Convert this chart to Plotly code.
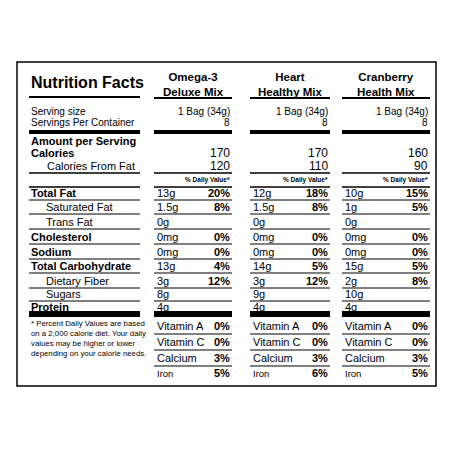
import plotly.graph_objects as go

# ---- data ----
products = ["Omega-3<br>Deluxe Mix", "Heart<br>Healthy Mix", "Cranberry<br>Health Mix"]
serving_size = ["1 Bag (34g)", "1 Bag (34g)", "1 Bag (34g)"]
servings = ["8", "8", "8"]
calories = ["170", "170", "160"]
calories_fat = ["120", "110", "90"]

nutrients = ["Total Fat", "Saturated Fat", "Trans Fat", "Cholesterol", "Sodium",
             "Total Carbohydrate", "Dietary Fiber", "Sugars", "Protein"]
indented = [False, True, True, False, False, False, True, True, False]
amounts = [
    ["13g", "1.5g", "0g", "0mg", "0mg", "13g", "3g", "8g", "4g"],
    ["12g", "1.5g", "0g", "0mg", "0mg", "14g", "3g", "9g", "4g"],
    ["10g", "1g", "0g", "0mg", "0mg", "15g", "2g", "10g", "4g"],
]
daily = [
    ["20%", "8%", "", "0%", "0%", "4%", "12%", "", ""],
    ["18%", "8%", "", "0%", "0%", "5%", "12%", "", ""],
    ["15%", "5%", "", "0%", "0%", "5%", "8%", "", ""],
]
vitamins = ["Vitamin A", "Vitamin C", "Calcium", "Iron"]
vit_values = [
    ["0%", "0%", "3%", "5%"],
    ["0%", "0%", "3%", "6%"],
    ["0%", "0%", "3%", "5%"],
]
footnote = ("* Percent Daily Values are based<br>on a 2,000 calorie diet. Your daily<br>"
            "values may be higher or lower<br>depending on your calorie needs.")

# ---- layout geometry (pixels) ----
FONT = "Liberation Sans Narrow, Liberation Sans, Arial"
LX0, LX1 = 29, 140
cols = [(154, 232), (250, 330), (342, 430)]
row_y = [193, 207, 222, 237, 252, 266, 281, 294, 307]
vit_y = [326, 342, 358, 373]
OFF = 8  # page body margin

fig = go.Figure()
ann = []
shapes = []


def text(x, y, s, size=10, bold=False, anchor="left", valign="middle"):
    ann.append(dict(x=x, y=y, text=f"<b>{s}</b>" if bold else s, showarrow=False,
                    xanchor=anchor, yanchor=valign, align=anchor if anchor != "center" else "center",
                    font=dict(family=FONT, size=size, color="black")))


def hline(x0, x1, y, w=1):
    shapes.append(dict(type="line", x0=x0, x1=x1, y0=y, y1=y, line=dict(color="black", width=w)))


# border
shapes.append(dict(type="rect", x0=17, x1=436, y0=62, y1=386, line=dict(color="black", width=1.5)))

# label column
text(LX0, 82, "Nutrition Facts", 16, True)
hline(LX0, LX1, 97, 2)
text(LX0, 111, "Serving size", 10)
text(LX0, 122, "Servings Per Container", 10)
hline(LX0, LX1, 132, 4)
text(LX0, 141, "Amount per Serving", 11, True)
text(LX0, 153, "Calories", 11, True)
text(LX0 + 16, 166, "Calories From Fat", 11)
hline(LX0, LX1, 173, 1.5)
for i, (n, y) in enumerate(zip(nutrients, row_y)):
    text(LX0 + (15 if indented[i] else 0), y, n, 11, not indented[i])
    if i < len(nutrients) - 1:
        hline(LX0, LX1, y + 7, 1)
hline(LX0, LX1, 187, 1.5)
hline(LX0, LX1, 314, 6)
text(LX0, 338, footnote, 7.8, False, valign="middle")

# product columns
for c, (x0, x1) in enumerate(cols):
    xm = (x0 + x1) / 2
    text(xm, 84, products[c], 11.5, True, "center")
    hline(x0, x1, 98, 2)
    text(x1, 111, serving_size[c], 10, anchor="right")
    text(x1, 122, servings[c], 10, anchor="right")
    hline(x0, x1, 132, 4)
    text(x1, 153, calories[c], 12, anchor="right")
    text(x1, 166, calories_fat[c], 12, anchor="right")
    hline(x0, x1, 173, 1.5)
    text(x1, 180, "<b>% Daily Value*</b>", 6.5, anchor="right")
    hline(x0, x1, 187, 1.5)
    for i, y in enumerate(row_y):
        text(x0 + 1, y, amounts[c][i], 11)
        if daily[c][i]:
            text(x1, y, daily[c][i], 11, True, "right")
        if i < len(row_y) - 1:
            hline(x0, x1, y + 7, 1)
    hline(x0, x1, 314, 6)
    for i, y in enumerate(vit_y):
        text(x0 + 1, y, vitamins[i], 11 if i < 3 else 9.5)
        text(x1, y, vit_values[c][i], 11, True, "right")
        if i < len(vit_y) - 1:
            hline(x0, x1, y + 8, 1)

fig.update_layout(
    width=450, height=450, margin=dict(l=0, r=0, t=0, b=0),
    paper_bgcolor="white", plot_bgcolor="white",
    xaxis=dict(range=[OFF, 450 + OFF], visible=False, fixedrange=True),
    yaxis=dict(range=[450 + OFF, OFF], visible=False, fixedrange=True),
    annotations=ann, shapes=shapes, showlegend=False,
)
fig.write_html("out.html")
